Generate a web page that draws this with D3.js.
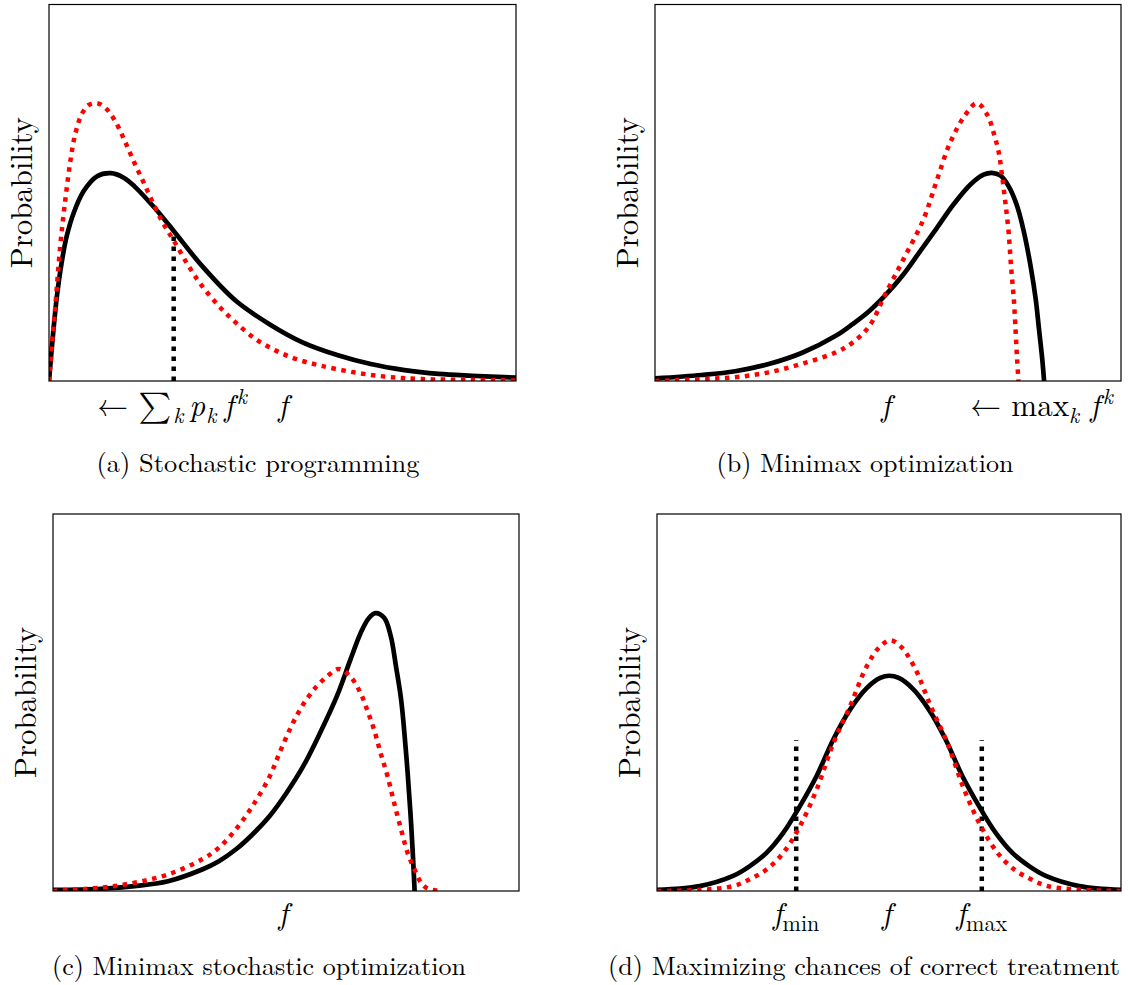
<!DOCTYPE html>
<html>
<head>
<meta charset="utf-8">
<script src="https://cdnjs.cloudflare.com/ajax/libs/d3/7.8.5/d3.min.js"></script>
<style>
  body { margin: 0; background: #fff; }
</style>
</head>
<body>
<div id="chart-area"></div>
<script>
// values, x and y both 0..1 inside each frame

// (a) Stochastic programming
var aBlack = [[0,0],[0.009,0.129],[0.017,0.226],[0.027,0.314],[0.038,0.385],[0.053,0.447],[0.074,0.504],[0.103,0.544],[0.132,0.552],[0.160,0.540],[0.183,0.517],[0.226,0.460],[0.270,0.394],[0.328,0.305],[0.400,0.213],[0.472,0.151],[0.544,0.102],[0.617,0.069],[0.689,0.045],[0.761,0.029],[0.834,0.019],[0.906,0.014],[1.0,0.009]];
var aRed = [[0,0],[0.008,0.12],[0.013,0.19],[0.024,0.358],[0.035,0.482],[0.046,0.586],[0.056,0.655],[0.071,0.711],[0.085,0.733],[0.103,0.738],[0.121,0.725],[0.140,0.694],[0.161,0.641],[0.183,0.579],[0.205,0.521],[0.226,0.464],[0.248,0.411],[0.270,0.367],[0.299,0.305],[0.328,0.252],[0.364,0.199],[0.400,0.155],[0.443,0.111],[0.487,0.080],[0.530,0.058],[0.581,0.041],[0.653,0.023],[0.725,0.011],[0.798,0.005],[0.906,0.003],[1.0,0.001]];
var aMarks = [[0.267, 0.396]];

// (b) Minimax optimization
var bBlack = [[0,0.007],[0.100,0.016],[0.172,0.026],[0.244,0.045],[0.316,0.075],[0.388,0.120],[0.424,0.151],[0.460,0.186],[0.496,0.230],[0.533,0.283],[0.568,0.343],[0.604,0.405],[0.640,0.468],[0.677,0.522],[0.705,0.548],[0.723,0.553],[0.741,0.546],[0.759,0.517],[0.777,0.465],[0.792,0.394],[0.806,0.305],[0.817,0.217],[0.824,0.138],[0.831,0.058],[0.835,0]];
var bRed = [[0,0],[0.100,0.005],[0.172,0.010],[0.244,0.023],[0.316,0.046],[0.388,0.076],[0.424,0.102],[0.460,0.146],[0.496,0.235],[0.533,0.323],[0.576,0.429],[0.604,0.530],[0.633,0.632],[0.666,0.707],[0.691,0.738],[0.713,0.707],[0.727,0.658],[0.738,0.605],[0.745,0.543],[0.752,0.473],[0.759,0.393],[0.764,0.305],[0.770,0.217],[0.774,0.129],[0.777,0.058],[0.780,0]];

// (c) Minimax stochastic optimization
var cBlack = [[0,0.003],[0.103,0.006],[0.175,0.013],[0.247,0.026],[0.320,0.057],[0.356,0.079],[0.392,0.110],[0.428,0.150],[0.465,0.199],[0.501,0.260],[0.537,0.331],[0.573,0.419],[0.609,0.516],[0.638,0.613],[0.660,0.684],[0.678,0.724],[0.692,0.737],[0.711,0.724],[0.725,0.675],[0.736,0.596],[0.747,0.508],[0.754,0.420],[0.761,0.314],[0.767,0.208],[0.772,0.102],[0.776,0]];
var cRed = [[0,0],[0.103,0.009],[0.175,0.022],[0.247,0.044],[0.320,0.084],[0.356,0.115],[0.392,0.163],[0.428,0.225],[0.465,0.304],[0.486,0.366],[0.508,0.428],[0.526,0.472],[0.544,0.508],[0.566,0.543],[0.588,0.569],[0.613,0.589],[0.638,0.569],[0.660,0.525],[0.674,0.481],[0.689,0.428],[0.703,0.366],[0.718,0.304],[0.732,0.234],[0.747,0.163],[0.761,0.101],[0.776,0.057],[0.790,0.022],[0.805,0.006],[0.830,0]];

// (d) Maximizing chances of correct treatment
var dBlack = [[0,0.003],[0.092,0.013],[0.164,0.040],[0.200,0.066],[0.236,0.101],[0.272,0.154],[0.308,0.225],[0.344,0.305],[0.380,0.402],[0.416,0.481],[0.452,0.538],[0.481,0.565],[0.501,0.571],[0.521,0.565],[0.550,0.538],[0.586,0.481],[0.622,0.402],[0.658,0.305],[0.694,0.225],[0.730,0.154],[0.766,0.101],[0.802,0.066],[0.838,0.040],[0.910,0.013],[1.0,0.003]];
var dRed = [[0,0],[0.092,0.003],[0.164,0.013],[0.200,0.031],[0.236,0.057],[0.272,0.101],[0.308,0.172],[0.344,0.269],[0.380,0.392],[0.416,0.490],[0.452,0.596],[0.481,0.649],[0.503,0.665],[0.525,0.649],[0.554,0.596],[0.590,0.490],[0.626,0.392],[0.662,0.269],[0.698,0.172],[0.734,0.101],[0.770,0.057],[0.806,0.031],[0.842,0.013],[0.914,0.003],[1.0,0]];
var dMarks = [[0.30, 0.40], [0.70, 0.40]];

// tick texts: [text, style, position, dx]
var aTicks = [
  {x: 0.103, anchor: "start", parts: [["\u2190 \u2211","rm","",0],["k","it","sub",2],["p","it","",6],["k","it","sub",1],["f","it","",8],["k","it","sup",3]]},
  {x: 0.501, anchor: "middle", parts: [["f","it","",0]]}
];
var bTicks = [
  {x: 0.496, anchor: "middle", parts: [["f","it","",0]]},
  {x: 0.676, anchor: "start", parts: [["\u2190 max","rm","",0],["k","it","sub",0],[" f","it","",0],["k","it","sup",3]]}
];
var cTicks = [
  {x: 0.494, anchor: "middle", parts: [["f","it","",0]]}
];
var dTicks = [
  {x: 0.30, anchor: "middle", parts: [["f","it","",0],["min","rm","sub",0]]},
  {x: 0.495, anchor: "middle", parts: [["f","it","",0]]},
  {x: 0.70, anchor: "middle", parts: [["f","it","",0],["max","rm","sub",0]]}
];

var captions = ["(a) Stochastic programming", "(b) Minimax optimization",
                "(c) Minimax stochastic optimization", "(d) Maximizing chances of correct treatment"];
var captionWidths = [323, 297, 414, 512];

var FONT = "'Latin Modern Roman', 'Latin Modern Math', 'Liberation Serif', serif";

var panels = [
  {black: aBlack, red: aRed, marks: aMarks, ticks: aTicks, box: [49, 4.5, 516, 381], capX: 258, capY: 472, tickY: 416},
  {black: bBlack, red: bRed, marks: [], ticks: bTicks, box: [655, 4.5, 1121, 381], capX: 865, capY: 472, tickY: 416},
  {black: cBlack, red: cRed, marks: [], ticks: cTicks, box: [53, 514, 519, 891], capX: 259, capY: 975, tickY: 924},
  {black: dBlack, red: dRed, marks: dMarks, ticks: dTicks, box: [657, 514, 1121, 891], capX: 864, capY: 975, tickY: 924}
];

var svg = d3.select("#chart-area")
    .append("svg")
    .attr("width", 1128)
    .attr("height", 985);

svg.append("rect").attr("width", 1128).attr("height", 985).attr("fill", "#fff");

panels.forEach(function (p, i) {
    var b = p.box;
    var x = d3.scaleLinear().domain([0, 1]).range([b[0], b[2]]);
    var y = d3.scaleLinear().domain([0, 1]).range([b[3], b[1]]);

    var line = d3.line()
        .x(function (d) { return x(d[0]); })
        .y(function (d) { return y(d[1]); })
        .curve(d3.curveCatmullRom.alpha(0.5));

    svg.append("clipPath").attr("id", "clip" + i)
        .append("rect")
        .attr("x", b[0]).attr("y", b[1])
        .attr("width", b[2] - b[0]).attr("height", b[3] - b[1]);

    var g = svg.append("g").attr("clip-path", "url(#clip" + i + ")");

    g.append("path")
        .datum(p.black)
        .attr("d", line)
        .attr("fill", "none")
        .attr("stroke", "#000")
        .attr("stroke-width", 4.7);

    // dashed verticals
    g.selectAll(".mark")
        .data(p.marks)
        .enter()
        .append("line")
        .attr("x1", function (d) { return x(d[0]); })
        .attr("x2", function (d) { return x(d[0]); })
        .attr("y1", y(0))
        .attr("y2", function (d) { return y(d[1]); })
        .attr("stroke", "#000")
        .attr("stroke-width", 4.5)
        .attr("stroke-dasharray", "4.5,5.5");

    g.append("path")
        .datum(p.red)
        .attr("d", line)
        .attr("fill", "none")
        .attr("stroke", "#ff0000")
        .attr("stroke-width", 4.5)
        .attr("stroke-dasharray", "4.5,5.5");

    svg.append("rect")
        .attr("x", b[0]).attr("y", b[1])
        .attr("width", b[2] - b[0]).attr("height", b[3] - b[1])
        .attr("fill", "none")
        .attr("stroke", "#000")
        .attr("stroke-width", 1.2);

    // y label
    svg.append("text")
        .attr("transform", "translate(" + (b[0] - 17) + "," + ((b[1] + b[3]) / 2) + ") rotate(-90)")
        .attr("text-anchor", "middle")
        .attr("font-family", FONT)
        .attr("textLength", 151)
        .attr("lengthAdjust", "spacingAndGlyphs")
        .style("font-size", "31px")
        .text("Probability");

    // tick texts
    p.ticks.forEach(function (t) {
        var txt = svg.append("text")
            .attr("x", x(t.x))
            .attr("y", p.tickY)
            .attr("text-anchor", t.anchor)
            .attr("font-family", FONT)
            .style("font-size", "31px");
        var shift = 0;
        t.parts.forEach(function (part) {
            var target = part[2] == "sub" ? 7 : (part[2] == "sup" ? -12 : 0);
            var ts = txt.append("tspan")
                .attr("dy", target - shift)
                .text(part[0]);
            if (part[3]) ts.attr("dx", part[3]);
            shift = target;
            if (part[1] == "it") ts.style("font-style", "italic");
            if (part[2] != "") ts.style("font-size", "22px");
        });
    });

    svg.append("text")
        .attr("x", p.capX)
        .attr("y", p.capY)
        .attr("text-anchor", "middle")
        .attr("font-family", FONT)
        .attr("textLength", captionWidths[i])
        .attr("lengthAdjust", "spacingAndGlyphs")
        .style("font-size", "26px")
        .text(captions[i]);
});
</script>
</body>
</html>
